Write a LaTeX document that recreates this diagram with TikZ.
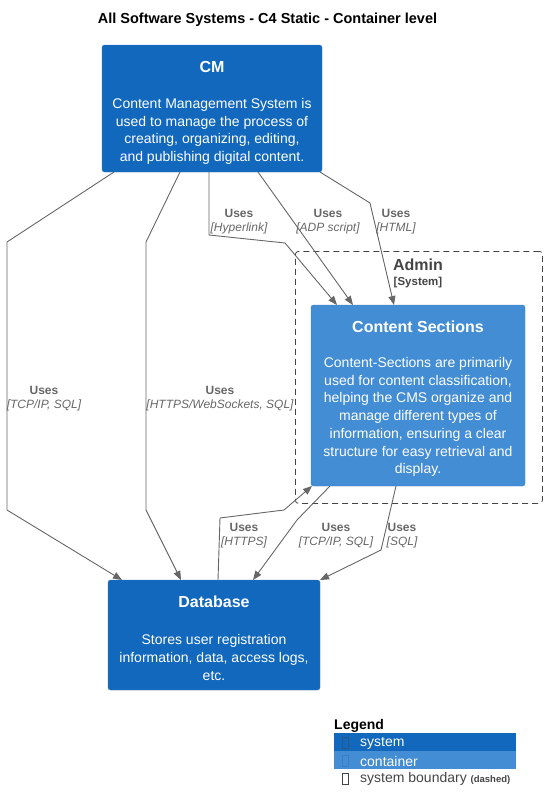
\documentclass[tikz,border=0pt]{standalone}
\usepackage{fontspec}
\setmainfont{Liberation Sans}
\usetikzlibrary{arrows.meta,calc}
\definecolor{sysblue}{HTML}{1168BD}
\definecolor{sysedge}{HTML}{3C7FC0}
\definecolor{contblue}{HTML}{438DD5}
\definecolor{contedge}{HTML}{3C7FC0}
\definecolor{lineg}{HTML}{666666}
\definecolor{bndg}{HTML}{444444}
\begin{document}
\begin{tikzpicture}[x=1pt,y=-1pt,
  boxshape/.style={draw, rounded corners=2.5pt, inner sep=0pt, outer sep=0pt, anchor=north west},
  sysbox/.style={boxshape, fill=sysblue, draw=sysedge},
  contbox/.style={boxshape, fill=contblue, draw=contedge},
  ttl/.style={font=\bfseries\fontsize{16}{19}\selectfont, text=white, inner sep=0pt},
  desc/.style={font=\fontsize{14}{17.7}\selectfont, text=white, align=center, inner sep=0pt},
  rel/.style={draw=lineg, line width=0.9pt, -{Triangle[length=9pt,width=7pt]}},
  uses/.style={font=\bfseries\fontsize{12}{14}\selectfont, text=lineg, inner sep=0pt},
  tech/.style={font=\itshape\fontsize{12}{14}\selectfont, text=lineg, inner sep=0pt},
  legrow/.style={anchor=north west, minimum width=182pt, minimum height=18pt, inner sep=0pt, outer sep=0pt},
  legtxt/.style={anchor=west, font=\fontsize{14}{16}\selectfont, inner sep=0pt},
  tofu/.style={draw, line width=0.7pt, minimum width=6pt, minimum height=11pt, inner sep=0pt, anchor=center}
]
\useasboundingbox (0,0) rectangle (546,811);

% title
\node[font=\bfseries\fontsize{14.5}{16}\selectfont, inner sep=0pt] (title) at (267.5,19.5) {All Software Systems - C4 Static - Container level};

% boundary
\node[draw=bndg, dashed, dash pattern=on 6pt off 4pt, line width=0.8pt, rounded corners=3pt, anchor=north west,
  minimum width=247pt, minimum height=252pt, inner sep=0pt] (admin) at (295,251) {};
\node[font=\bfseries\fontsize{16}{19}\selectfont, text=bndg, inner sep=0pt] (adminname) at (418,264.5) {Admin};
\node[font=\bfseries\fontsize{11.5}{13}\selectfont, text=bndg, inner sep=0pt] (admintype) at (418,282.5) {[System]};

% CM
\node[sysbox, minimum width=220pt, minimum height=127pt] (cm) at (102,45) {};
\node[ttl] (cmt) at (212,67) {CM};
\node[desc] (cmd) at (212,131.5) {Content Management System is\\used to manage the process of\\creating, organizing, editing,\\and publishing digital content.};

% Content Sections
\node[contbox, minimum width=214pt, minimum height=181pt] (cs) at (311,305) {};
\node[ttl] (cst) at (418,327) {Content Sections};
\node[desc] (csd) at (418,417) {Content-Sections are primarily\\used for content classification,\\helping the CMS organize and\\manage different types of\\information, ensuring a clear\\structure for easy retrieval and\\display.};

% Database
\node[sysbox, minimum width=212pt, minimum height=110pt] (db) at (108,580) {};
\node[ttl] (dbt) at (214,602) {Database};
\node[desc] (dbd) at (214,657.5) {Stores user registration\\information, data, access logs,\\etc.};

% connectors
\draw[rel] ([xshift=12pt]cm.south west) -- (7,242) -- (7,510) -- ([xshift=14pt]db.north west);
\draw[rel] ([xshift=78pt]cm.south west) -- (146,242) -- (146,510) -- ([xshift=73pt]db.north west);
\draw[rel] ([xshift=107pt]cm.south west) -- (209,235) -- (285,243) -- ([xshift=26pt]cs.north west);
\draw[rel] ([xshift=156pt]cm.south west) -- ([xshift=42pt]cs.north west);
\draw[rel] ([xshift=218pt]cm.south west) -- (370,203) -- ([xshift=83pt]cs.north west);
\draw[rel] ([xshift=110pt]db.north west) -- (220,518) -- (284,510) -- ([xshift=1pt]cs.south west);
\draw[rel] ([xshift=19pt]cs.south west) -- (297,520) -- ([xshift=145pt]db.north west);
\draw[rel] ([xshift=85pt]cs.south west) -- (381,550) -- (db.north east);

% connector labels
\node[uses] (u1) at (44,390.5) {Uses};
\node[tech] (t1) at (44,405.5) {[TCP/IP, SQL]};
\node[uses] (u2) at (220,390.5) {Uses};
\node[tech] (t2) at (220,405.5) {[HTTPS/WebSockets, SQL]};
\node[uses] (u3) at (239,213.5) {Uses};
\node[tech] (t3) at (239,228.5) {[Hyperlink]};
\node[uses] (u4) at (328,213.5) {Uses};
\node[tech] (t4) at (328,228.5) {[ADP script]};
\node[uses] (u5) at (396,213.5) {Uses};
\node[tech] (t5) at (396,228.5) {[HTML]};
\node[uses] (u6) at (244,527.5) {Uses};
\node[tech] (t6) at (244,542.5) {[HTTPS]};
\node[uses] (u7) at (336,527.5) {Uses};
\node[tech] (t7) at (336,542.5) {[TCP/IP, SQL]};
\node[uses] (u8) at (402,527.5) {Uses};
\node[tech] (t8) at (402,542.5) {[SQL]};

% legend
\node[font=\bfseries\fontsize{14}{16}\selectfont, anchor=west, inner sep=0pt] (legend) at (334,726) {Legend};
\node[legrow, fill=sysblue] (lsys) at (334,733) {};
\node[legrow, fill=contblue] (lcont) at (334,751) {};
\node[legrow] (lbnd) at (334,769) {};
\node[tofu, draw=sysedge!70!black] (lsysbox) at ([xshift=11pt,yshift=-1pt]lsys.west) {};
\node[tofu, draw=contedge] (lcontbox) at ([xshift=11pt,yshift=-1pt]lcont.west) {};
\node[tofu, draw=bndg] (lbndbox) at ([xshift=11pt,yshift=-1pt]lbnd.west) {};
\node[legtxt, text=white] (lsyst) at ([xshift=26pt,yshift=-1pt]lsys.west) {system};
\node[legtxt, text=white] (lcontt) at ([xshift=26pt,yshift=-1pt]lcont.west) {container};
\node[legtxt, text=bndg] (lbndt) at ([xshift=26pt,yshift=-1pt]lbnd.west) {system boundary {\bfseries\fontsize{9.5}{11}\selectfont (dashed)}};
\end{tikzpicture}
\end{document}
